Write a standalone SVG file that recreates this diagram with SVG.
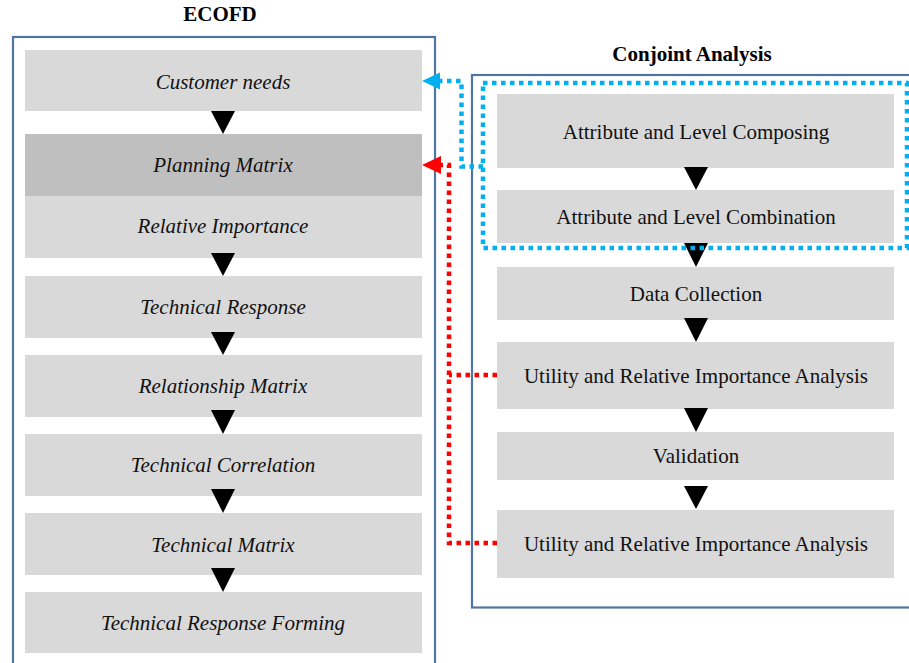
<svg xmlns="http://www.w3.org/2000/svg" width="909" height="663" viewBox="0 0 909 663">
  <style>
    .frame { fill: none; stroke: #4f76a3; stroke-width: 2.2; }
    .box { fill: #d9d9d9; }
    .box.dark { fill: #bfbfbf; }
    .lbl { font-family: "Liberation Serif", "Times New Roman", serif; font-size: 21px; fill: #111; text-anchor: middle; }
    .it { font-style: italic; }
    .title { font-family: "Liberation Serif", "Times New Roman", serif; font-size: 21px; font-weight: bold; fill: #000; text-anchor: middle; }
    .tri { fill: #000; }
    .blue { fill: none; stroke: #00b0f0; stroke-width: 4.5; stroke-dasharray: 4.5 4.5; }
    .red { fill: none; stroke: #ff0000; stroke-width: 4.5; stroke-dasharray: 4.5 4.5; }
  </style>

  <rect width="909" height="663" fill="#fff"/>

  <!-- ECOFD panel -->
  <g id="ecofd">
    <text class="title" x="220" y="21">ECOFD</text>
    <rect class="frame" x="13" y="37" width="422" height="640"/>
  </g>

  <!-- Conjoint Analysis panel -->
  <g id="conjoint">
    <text class="title" x="692" y="61">Conjoint Analysis</text>
    <rect class="frame" x="472" y="75" width="460" height="532.5"/>
  </g>

  <!-- ECOFD steps -->
  <g id="customer-needs">
    <rect class="box" x="25" y="50" width="397" height="61"/>
    <text class="lbl it" x="223" y="89">Customer needs</text>
  </g>
  <g id="planning-matrix">
    <rect class="box dark" x="25" y="134" width="397" height="62"/>
    <text class="lbl it" x="223" y="172">Planning Matrix</text>
  </g>
  <g id="relative-importance">
    <rect class="box" x="25" y="196" width="397" height="62"/>
    <text class="lbl it" x="223" y="233">Relative Importance</text>
  </g>
  <g id="technical-response">
    <rect class="box" x="25" y="276" width="397" height="62"/>
    <text class="lbl it" x="223" y="314">Technical Response</text>
  </g>
  <g id="relationship-matrix">
    <rect class="box" x="25" y="355" width="397" height="62"/>
    <text class="lbl it" x="223" y="393">Relationship Matrix</text>
  </g>
  <g id="technical-correlation">
    <rect class="box" x="25" y="434" width="397" height="62"/>
    <text class="lbl it" x="223" y="472">Technical Correlation</text>
  </g>
  <g id="technical-matrix">
    <rect class="box" x="25" y="513" width="397" height="62"/>
    <text class="lbl it" x="223" y="552">Technical Matrix</text>
  </g>
  <g id="technical-response-forming">
    <rect class="box" x="25" y="592" width="397" height="61"/>
    <text class="lbl it" x="223" y="630">Technical Response Forming</text>
  </g>

  <!-- Conjoint Analysis steps -->
  <g id="attr-composing">
    <rect class="box" x="497" y="94" width="397" height="74"/>
    <text class="lbl" x="696" y="139">Attribute and Level Composing</text>
  </g>
  <g id="attr-combination">
    <rect class="box" x="497" y="190" width="397" height="53"/>
    <text class="lbl" x="696" y="224">Attribute and Level Combination</text>
  </g>
  <g id="data-collection">
    <rect class="box" x="497" y="267" width="397" height="53"/>
    <text class="lbl" x="696" y="301">Data Collection</text>
  </g>
  <g id="utility-1">
    <rect class="box" x="497" y="342" width="397" height="67"/>
    <text class="lbl" x="696" y="383">Utility and Relative Importance Analysis</text>
  </g>
  <g id="validation">
    <rect class="box" x="497" y="432" width="397" height="48"/>
    <text class="lbl" x="696" y="463">Validation</text>
  </g>
  <g id="utility-2">
    <rect class="box" x="497" y="510" width="397" height="68"/>
    <text class="lbl" x="696" y="551">Utility and Relative Importance Analysis</text>
  </g>

  <!-- Connectors -->
  <g id="connectors">
    <!-- ECOFD flow arrows -->
    <polygon class="tri" points="211,111 235,111 223,134"/>
    <polygon class="tri" points="211,253 235,253 223,276"/>
    <polygon class="tri" points="211,332 235,332 223,355"/>
    <polygon class="tri" points="211,410 235,410 223,434"/>
    <polygon class="tri" points="211,489 235,489 223,513"/>
    <polygon class="tri" points="211,568 235,568 223,592"/>

    <!-- Conjoint flow arrows -->
    <polygon class="tri" points="684,167 708,167 696,190"/>
    <polygon class="tri" points="684,243 708,243 696,267"/>
    <polygon class="tri" points="684,318 708,318 696,342"/>
    <polygon class="tri" points="684,408 708,408 696,432"/>
    <polygon class="tri" points="684,486 708,486 696,509"/>

    <!-- Blue dotted grouping of attribute steps, linked to Customer needs -->
    <rect class="blue" x="483" y="83" width="424" height="165"/>
    <polyline class="blue" points="483,166.5 461.5,166.5 461.5,81 440,81"/>
    <polygon fill="#00b0f0" points="422,81 440,72.5 440,89.5"/>

    <!-- Red dotted links from utility analyses to Planning Matrix -->
    <polyline class="red" points="497,375 449,375"/>
    <polyline class="red" points="497,543 449,543 449,165 440,165"/>
    <polygon fill="#ff0000" points="422,165 441,156 441,174"/>
  </g>
</svg>
